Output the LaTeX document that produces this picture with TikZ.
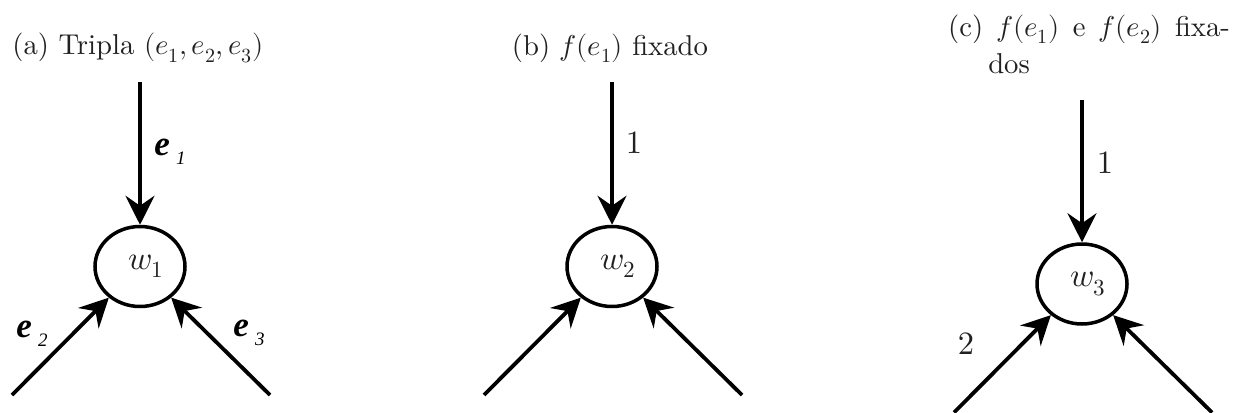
\documentclass[tikz,border=0pt]{standalone}
\usepackage{fontspec}
\usepackage{unicode-math}
\setmainfont{lmroman10-regular}[Extension=.otf, ItalicFont=lmroman10-italic, BoldFont=lmroman10-bold]
\setmathfont{latinmodern-math.otf}
\newfontfamily\tnr{Liberation Serif}
\usetikzlibrary{arrows.meta,shapes.geometric}
\definecolor{txt}{gray}{0.13}
\newcommand{\elab}[1]{{\tnr\bfseries\itshape e}\hspace{6pt}\raisebox{-9pt}{\tnr\itshape\fontsize{19}{19}\selectfont #1}}
\begin{document}
\begin{tikzpicture}[x=1pt,y=1pt,
  wnode/.style={draw, ellipse, line width=3.5pt, minimum width=90pt, minimum height=80pt, inner sep=0pt, text=txt, font=\fontsize{33}{38}\selectfont},
  arr/.style={line width=3.8pt, -{Stealth[length=29pt,width=29pt,inset=10pt]}},
  captxt/.style={text=txt, inner sep=0pt, font=\fontsize{28.7}{27}\selectfont},
  elbl/.style={text=black, inner sep=0pt, font=\fontsize{35}{40}\selectfont},
  nlbl/.style={text=txt, inner sep=0pt, font=\fontsize{32.5}{38}\selectfont}]
\useasboundingbox (0,0) rectangle (1233,-412);
% panel a
\node[captxt] (ca) at (138,-48) {(a) Tripla $(e_1,e_2,e_3)$};
\node[wnode] (w1) at (140,-266.5) {\hspace*{12pt}$w_1$};
\coordinate (a1) at (140,-82);
\coordinate (a2) at (12,-395);
\coordinate (a3) at (270,-395);
\draw[arr] (a1) -- (w1.north);
\draw[arr] (a2) -- (w1.225);
\draw[arr] (a3) -- (w1.-45);
\node[elbl] (la1) at (170,-152) {\elab{1}};
\node[elbl] (la2) at (32,-334) {\elab{2}};
\node[elbl] (la3) at (249,-333) {\elab{3}};
% panel b
\node[captxt] (cb) at (610,-48) {(b) $f(e_1)$ fixado};
\node[wnode] (w2) at (612,-266.5) {\hspace*{12pt}$w_2$};
\coordinate (b1) at (612,-82);
\coordinate (b2) at (484,-395);
\coordinate (b3) at (742,-395);
\draw[arr] (b1) -- (w2.north);
\draw[arr] (b2) -- (w2.225);
\draw[arr] (b3) -- (w2.-45);
\node[nlbl] (lb1) at (634,-143) {1};
% panel c
\node[captxt, align=left, anchor=west] (cc) at (948,-48) {(c)\hspace{13.3pt}$f(e_1)$\hspace{13.3pt}e\hspace{13.3pt}$f(e_2)$\hspace{13.3pt}fixa-\\[7pt]\phantom{(c)}\hspace{5pt}dos};
\node[wnode] (w3) at (1082,-284) {\hspace*{12pt}$w_3$};
\coordinate (c1) at (1082,-100);
\coordinate (c2) at (954,-412.5);
\coordinate (c3) at (1212,-412.5);
\draw[arr] (c1) -- (w3.north);
\draw[arr] (c2) -- (w3.225);
\draw[arr] (c3) -- (w3.-45);
\node[nlbl] (lc1) at (1105,-163) {1};
\node[nlbl] (lc2) at (966,-344) {2};
\end{tikzpicture}
\end{document}
